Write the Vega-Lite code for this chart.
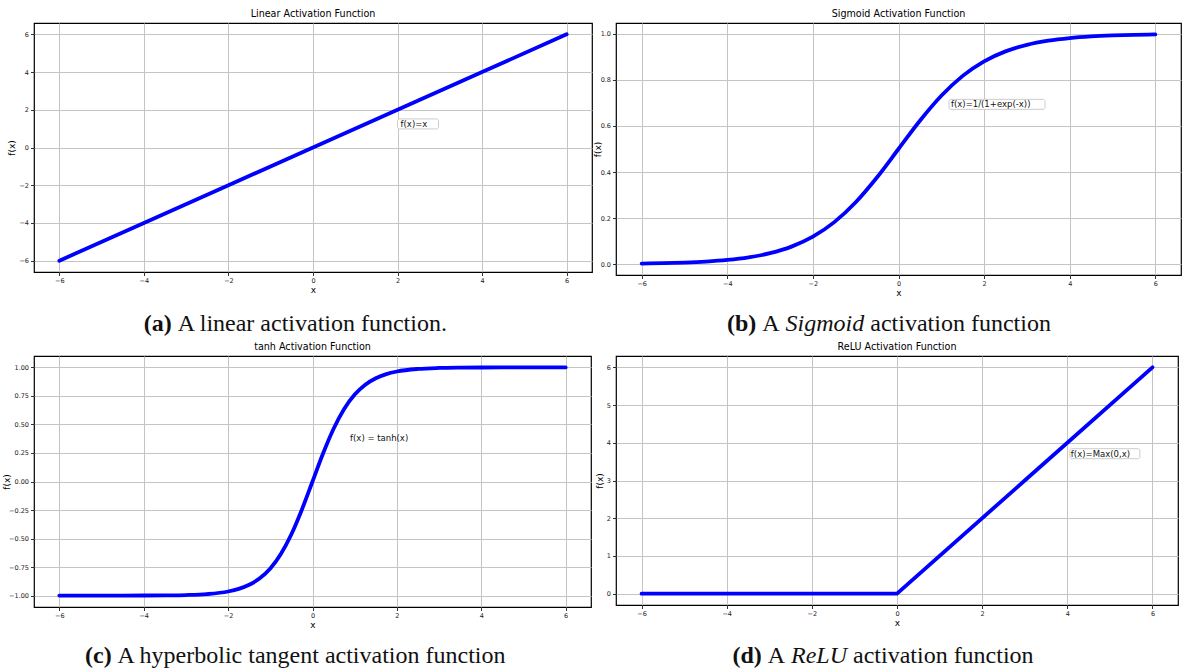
{
  "$schema": "https://vega.github.io/schema/vega-lite/v6.json",
  "padding": {"left": 1, "top": 8, "right": 0, "bottom": 0},
  "background": "white",
  "datasets": {
    "linear": [
      {"x": -6, "y": -6}, {"x": -4, "y": -4}, {"x": -2, "y": -2}, {"x": 0, "y": 0},
      {"x": 2, "y": 2}, {"x": 4, "y": 4}, {"x": 6, "y": 6}
    ],
    "sigmoid": [
      {"x": -6, "y": 0.00247}, {"x": -5.5, "y": 0.00407}, {"x": -5, "y": 0.00669},
      {"x": -4.5, "y": 0.01099}, {"x": -4, "y": 0.01799}, {"x": -3.5, "y": 0.02931},
      {"x": -3, "y": 0.04743}, {"x": -2.5, "y": 0.07586}, {"x": -2, "y": 0.1192},
      {"x": -1.5, "y": 0.1824}, {"x": -1, "y": 0.2689}, {"x": -0.5, "y": 0.3775},
      {"x": 0, "y": 0.5}, {"x": 0.5, "y": 0.6225}, {"x": 1, "y": 0.7311},
      {"x": 1.5, "y": 0.8176}, {"x": 2, "y": 0.8808}, {"x": 2.5, "y": 0.9241},
      {"x": 3, "y": 0.9526}, {"x": 3.5, "y": 0.9707}, {"x": 4, "y": 0.982},
      {"x": 4.5, "y": 0.989}, {"x": 5, "y": 0.9933}, {"x": 5.5, "y": 0.9959},
      {"x": 6, "y": 0.9975}
    ],
    "tanh": [
      {"x": -6, "y": -0.99999}, {"x": -5.5, "y": -0.99997}, {"x": -5, "y": -0.99991},
      {"x": -4.5, "y": -0.99975}, {"x": -4, "y": -0.99933}, {"x": -3.5, "y": -0.99818},
      {"x": -3, "y": -0.99505}, {"x": -2.5, "y": -0.98661}, {"x": -2, "y": -0.96403},
      {"x": -1.75, "y": -0.94138}, {"x": -1.5, "y": -0.90515}, {"x": -1.25, "y": -0.84828},
      {"x": -1, "y": -0.76159}, {"x": -0.75, "y": -0.63515}, {"x": -0.5, "y": -0.46212},
      {"x": -0.25, "y": -0.24492}, {"x": 0, "y": 0}, {"x": 0.25, "y": 0.24492},
      {"x": 0.5, "y": 0.46212}, {"x": 0.75, "y": 0.63515}, {"x": 1, "y": 0.76159},
      {"x": 1.25, "y": 0.84828}, {"x": 1.5, "y": 0.90515}, {"x": 1.75, "y": 0.94138},
      {"x": 2, "y": 0.96403}, {"x": 2.5, "y": 0.98661}, {"x": 3, "y": 0.99505},
      {"x": 3.5, "y": 0.99818}, {"x": 4, "y": 0.99933}, {"x": 4.5, "y": 0.99975},
      {"x": 5, "y": 0.99991}, {"x": 5.5, "y": 0.99997}, {"x": 6, "y": 0.99999}
    ],
    "relu": [
      {"x": -6, "y": 0}, {"x": -3, "y": 0}, {"x": 0, "y": 0}, {"x": 3, "y": 3}, {"x": 6, "y": 6}
    ]
  },
  "vconcat": [
    {
      "hconcat": [
        {
          "vconcat": [
            {
              "width": 558, "height": 249,
              "title": "Linear Activation Function",
              "layer": [
                {
                  "data": {"name": "linear"},
                  "mark": {"type": "line", "color": "#0000ff", "strokeWidth": 3.8, "strokeCap": "round"},
                  "encoding": {
                    "x": {"field": "x", "type": "quantitative", "title": "x", "scale": {"domain": [-6.6, 6.6], "nice": false, "zero": false}, "axis": {"values": [-6, -4, -2, 0, 2, 4, 6], "tickCount": 10, "format": "d"}},
                    "y": {"field": "y", "type": "quantitative", "title": "f(x)", "scale": {"domain": [-6.6, 6.6], "nice": false, "zero": false}, "axis": {"values": [-6, -4, -2, 0, 2, 4, 6], "tickCount": 10, "format": "d"}}
                  }
                },
                {
                  "data": {"values": [{"x": 2.0, "y": 1.25, "label": "f(x)=x"}]},
                  "mark": {"type": "rect", "fill": "white", "stroke": "#cccccc", "strokeWidth": 1, "cornerRadius": 2, "x2Offset": 41, "yOffset": -5, "y2Offset": 5},
                  "encoding": {"x": {"field": "x", "type": "quantitative"}, "x2": {"field": "x"}, "y": {"field": "y", "type": "quantitative"}, "y2": {"field": "y"}}
                },
                {
                  "data": {"values": [{"x": 2.0, "y": 1.25, "label": "f(x)=x"}]},
                  "mark": {"type": "text", "align": "left", "baseline": "middle", "dx": 3, "font": "DejaVu Sans", "fontSize": 8.5, "color": "#111"},
                  "encoding": {"x": {"field": "x", "type": "quantitative"}, "y": {"field": "y", "type": "quantitative"}, "text": {"field": "label"}}
                }
              ]
            },
            {
              "width": 524, "height": 26, "view": {"stroke": null},
              "layer": [
                {"data": {"values": [{"t": "(a)"}]}, "mark": {"type": "text", "align": "left", "baseline": "middle", "dx": -152.3, "font": "Liberation Serif", "fontSize": 24, "fontWeight": "bold", "color": "#111"}, "encoding": {"text": {"field": "t"}}},
                {"data": {"values": [{"t": "A linear activation function."}]}, "mark": {"type": "text", "align": "left", "baseline": "middle", "dx": -118.3, "font": "Liberation Serif", "fontSize": 24, "color": "#111"}, "encoding": {"text": {"field": "t"}}}
              ]
            }
          ],
          "spacing": 16
        },
        {
          "vconcat": [
            {
              "width": 565, "height": 252,
              "title": "Sigmoid Activation Function",
              "layer": [
                {
                  "data": {"name": "sigmoid"},
                  "mark": {"type": "line", "color": "#0000ff", "strokeWidth": 3.8, "strokeCap": "round", "interpolate": "monotone"},
                  "encoding": {
                    "x": {"field": "x", "type": "quantitative", "title": "x", "scale": {"domain": [-6.6, 6.6], "nice": false, "zero": false}, "axis": {"values": [-6, -4, -2, 0, 2, 4, 6], "tickCount": 10, "format": "d"}},
                    "y": {"field": "y", "type": "quantitative", "title": "f(x)", "scale": {"domain": [-0.0473, 1.0473], "nice": false, "zero": false}, "axis": {"values": [0, 0.2, 0.4, 0.6, 0.8, 1.0], "format": ".1f", "titlePadding": -2, "tickCount": 10}}
                  }
                },
                {
                  "data": {"values": [{"x": 1.18, "y": 0.694, "label": "f(x)=1/(1+exp(-x))"}]},
                  "mark": {"type": "rect", "fill": "white", "stroke": "#cccccc", "strokeWidth": 1, "cornerRadius": 2, "x2Offset": 96, "yOffset": -5, "y2Offset": 5},
                  "encoding": {"x": {"field": "x", "type": "quantitative"}, "x2": {"field": "x"}, "y": {"field": "y", "type": "quantitative"}, "y2": {"field": "y"}}
                },
                {
                  "data": {"values": [{"x": 1.18, "y": 0.694, "label": "f(x)=1/(1+exp(-x))"}]},
                  "mark": {"type": "text", "align": "left", "baseline": "middle", "dx": 2, "font": "DejaVu Sans", "fontSize": 8.5, "color": "#111"},
                  "encoding": {"x": {"field": "x", "type": "quantitative"}, "y": {"field": "y", "type": "quantitative"}, "text": {"field": "label"}}
                }
              ]
            },
            {
              "width": 546, "height": 26, "view": {"stroke": null},
              "layer": [
                {"data": {"values": [{"t": "(b)"}]}, "mark": {"type": "text", "align": "left", "baseline": "middle", "dx": -162, "font": "Liberation Serif", "fontSize": 24, "fontWeight": "bold", "color": "#111"}, "encoding": {"text": {"field": "t"}}},
                {"data": {"values": [{"t": "A"}]}, "mark": {"type": "text", "align": "left", "baseline": "middle", "dx": -126.7, "font": "Liberation Serif", "fontSize": 24, "color": "#111"}, "encoding": {"text": {"field": "t"}}},
                {"data": {"values": [{"t": "Sigmoid"}]}, "mark": {"type": "text", "align": "left", "baseline": "middle", "dx": -103.4, "font": "Liberation Serif", "fontSize": 24, "fontStyle": "italic", "color": "#111"}, "encoding": {"text": {"field": "t"}}},
                {"data": {"values": [{"t": "activation function"}]}, "mark": {"type": "text", "align": "left", "baseline": "middle", "dx": -18.7, "font": "Liberation Serif", "fontSize": 24, "color": "#111"}, "encoding": {"text": {"field": "t"}}}
              ]
            }
          ],
          "spacing": 13
        }
      ],
      "spacing": -1
    },
    {
      "hconcat": [
        {
          "vconcat": [
            {
              "width": 557, "height": 251,
              "title": "tanh Activation Function",
              "layer": [
                {
                  "data": {"name": "tanh"},
                  "mark": {"type": "line", "color": "#0000ff", "strokeWidth": 3.8, "strokeCap": "round", "interpolate": "monotone"},
                  "encoding": {
                    "x": {"field": "x", "type": "quantitative", "title": "x", "scale": {"domain": [-6.6, 6.6], "nice": false, "zero": false}, "axis": {"values": [-6, -4, -2, 0, 2, 4, 6], "tickCount": 10, "format": "d"}},
                    "y": {"field": "y", "type": "quantitative", "title": "f(x)", "scale": {"domain": [-1.1, 1.1], "nice": false, "zero": false}, "axis": {"values": [-1, -0.75, -0.5, -0.25, 0, 0.25, 0.5, 0.75, 1], "format": ".2f", "titlePadding": -3, "tickCount": 12}}
                  }
                },
                {
                  "data": {"values": [{"x": 0.89, "y": 0.38, "label": "f(x) = tanh(x)"}]},
                  "mark": {"type": "text", "align": "left", "baseline": "middle", "font": "DejaVu Sans", "fontSize": 8.5, "color": "#111"},
                  "encoding": {"x": {"field": "x", "type": "quantitative"}, "y": {"field": "y", "type": "quantitative"}, "text": {"field": "label"}}
                }
              ]
            },
            {
              "width": 524, "height": 26, "view": {"stroke": null},
              "layer": [
                {"data": {"values": [{"t": "(c)"}]}, "mark": {"type": "text", "align": "left", "baseline": "middle", "dx": -211, "font": "Liberation Serif", "fontSize": 24, "fontWeight": "bold", "color": "#111"}, "encoding": {"text": {"field": "t"}}},
                {"data": {"values": [{"t": "A hyperbolic tangent activation function"}]}, "mark": {"type": "text", "align": "left", "baseline": "middle", "dx": -178.4, "font": "Liberation Serif", "fontSize": 24, "color": "#111"}, "encoding": {"text": {"field": "t"}}}
              ]
            }
          ],
          "spacing": 13
        },
        {
          "vconcat": [
            {
              "width": 562, "height": 249,
              "title": "ReLU Activation Function",
              "layer": [
                {
                  "data": {"name": "relu"},
                  "mark": {"type": "line", "color": "#0000ff", "strokeWidth": 3.8, "strokeCap": "round"},
                  "encoding": {
                    "x": {"field": "x", "type": "quantitative", "title": "x", "scale": {"domain": [-6.6, 6.6], "nice": false, "zero": false}, "axis": {"values": [-6, -4, -2, 0, 2, 4, 6], "tickCount": 10, "format": "d"}},
                    "y": {"field": "y", "type": "quantitative", "title": "f(x)", "scale": {"domain": [-0.3, 6.3], "nice": false, "zero": false}, "axis": {"values": [0, 1, 2, 3, 4, 5, 6], "tickCount": 10, "format": "d"}}
                  }
                },
                {
                  "data": {"values": [{"x": 4.06, "y": 3.71, "label": "f(x)=Max(0,x)"}]},
                  "mark": {"type": "rect", "fill": "white", "stroke": "#cccccc", "strokeWidth": 1, "cornerRadius": 2, "x2Offset": 70, "yOffset": -5, "y2Offset": 5},
                  "encoding": {"x": {"field": "x", "type": "quantitative"}, "x2": {"field": "x"}, "y": {"field": "y", "type": "quantitative"}, "y2": {"field": "y"}}
                },
                {
                  "data": {"values": [{"x": 4.06, "y": 3.71, "label": "f(x)=Max(0,x)"}]},
                  "mark": {"type": "text", "align": "left", "baseline": "middle", "dx": 1, "font": "DejaVu Sans", "fontSize": 8.5, "color": "#111"},
                  "encoding": {"x": {"field": "x", "type": "quantitative"}, "y": {"field": "y", "type": "quantitative"}, "text": {"field": "label"}}
                }
              ]
            },
            {
              "width": 534, "height": 26, "view": {"stroke": null},
              "layer": [
                {"data": {"values": [{"t": "(d)"}]}, "mark": {"type": "text", "align": "left", "baseline": "middle", "dx": -150.6, "font": "Liberation Serif", "fontSize": 24, "fontWeight": "bold", "color": "#111"}, "encoding": {"text": {"field": "t"}}},
                {"data": {"values": [{"t": "A"}]}, "mark": {"type": "text", "align": "left", "baseline": "middle", "dx": -115.3, "font": "Liberation Serif", "fontSize": 24, "color": "#111"}, "encoding": {"text": {"field": "t"}}},
                {"data": {"values": [{"t": "ReLU"}]}, "mark": {"type": "text", "align": "left", "baseline": "middle", "dx": -92, "font": "Liberation Serif", "fontSize": 24, "fontStyle": "italic", "color": "#111"}, "encoding": {"text": {"field": "t"}}},
                {"data": {"values": [{"t": "activation function"}]}, "mark": {"type": "text", "align": "left", "baseline": "middle", "dx": -30, "font": "Liberation Serif", "fontSize": 24, "color": "#111"}, "encoding": {"text": {"field": "t"}}}
              ]
            }
          ],
          "spacing": 15
        }
      ],
      "spacing": 2
    }
  ],
  "spacing": 4,
  "config": {
    "view": {"stroke": "#000", "strokeWidth": 1.2},
    "axis": {
      "domain": false, "grid": true, "gridColor": "#c4c4c4", "gridWidth": 1,
      "tickColor": "#000", "tickSize": 3.5, "tickWidth": 0.8,
      "labelFont": "DejaVu Sans", "labelFontSize": 6.5, "labelColor": "#222", "labelPadding": 2, "labelOverlap": false,
      "titleFont": "DejaVu Sans", "titleFontSize": 9, "titleFontWeight": "normal", "titleColor": "#000"
    },
    "axisY": {"titlePadding": 2},
    "axisX": {"titlePadding": 1},
    "title": {"font": "DejaVu Sans", "fontSize": 9.6, "fontWeight": "normal", "offset": 0, "color": "#000"}
  }
}
